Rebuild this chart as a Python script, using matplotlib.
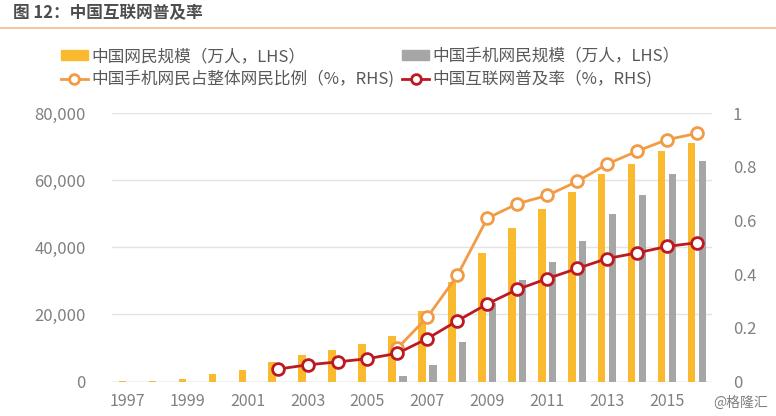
import numpy as np
import matplotlib
matplotlib.use("Agg")
import matplotlib.pyplot as plt
from matplotlib.lines import Line2D
from matplotlib.ticker import FuncFormatter

plt.rcParams["font.family"] = ["Noto Sans CJK SC", "DejaVu Sans"]

# data (万人 / ratio)
years = list(range(1997, 2017))
netizens = [62, 210, 890, 2250, 3370, 5910, 7950, 9400, 11100, 13700,
            21000, 29800, 38400, 45730, 51310, 56400, 61758, 64875, 68826, 71000]
mobile_netizens = [0, 0, 0, 0, 0, 0, 0, 0, 0, 1700,
                   5040, 11760, 23344, 30274, 35558, 41997, 50006, 55678, 61981, 65600]
mobile_share = [None] * 9 + [0.124, 0.24, 0.395, 0.608, 0.662, 0.693,
                             0.745, 0.810, 0.858, 0.901, 0.924]
penetration = [None] * 5 + [0.046, 0.062, 0.073, 0.085, 0.105, 0.16, 0.226,
                            0.289, 0.343, 0.383, 0.421, 0.458, 0.479, 0.503, 0.517]

YELLOW = "#F9BA30"
GREY = "#A6A6A6"
ORANGE = "#F39A45"
RED = "#BC1A22"
TXT = "#595959"
TICK = "#808080"

fig = plt.figure(figsize=(7.76, 4.16), dpi=100)
ax = fig.add_axes([0.1443, 0.0829, 0.7732, 0.6454])
ax2 = ax.twinx()

x = np.arange(len(years))
ax.bar(x - 0.18, netizens, width=0.25, color=YELLOW, zorder=2)
ax.bar(x + 0.18, mobile_netizens, width=0.25, color=GREY, zorder=2)

ms = np.array([np.nan if v is None else v for v in mobile_share])
pen = np.array([np.nan if v is None else v for v in penetration])
ax2.plot(x, ms, color=ORANGE, lw=2, marker="o", ms=8.5, mfc="white",
         mec=ORANGE, mew=2, zorder=3)
ax2.plot(x, pen, color=RED, lw=2, marker="o", ms=8.5, mfc="white",
         mec=RED, mew=2, zorder=4)

ax.set_xlim(-0.53, 19.5)
ax.set_ylim(0, 80000)
ax2.set_ylim(0, 1)
ax.set_yticks(range(0, 80001, 20000))
ax2.set_yticks([0, 0.2, 0.4, 0.6, 0.8, 1])
ax2.set_yticklabels(["0", "0.2", "0.4", "0.6", "0.8", "1"])
ax.yaxis.set_major_formatter(FuncFormatter(lambda v, p: f"{int(v):,}"))
ax.set_xticks(x[::2])
ax.set_xticklabels([str(y) for y in years[::2]])

ax.grid(axis="y", color="#E3E3E3", lw=1, zorder=0)
ax.set_axisbelow(True)
for a in (ax, ax2):
    for s in a.spines.values():
        s.set_visible(False)
    a.tick_params(length=0, colors=TICK)
ax.tick_params(axis="y", labelsize=12, pad=19)
ax.tick_params(axis="x", labelsize=11.5, pad=8)
ax2.tick_params(axis="y", labelsize=12, pad=15)
ax.axhline(0, color="#D9D9D9", lw=1, zorder=1)
ax2.set_zorder(ax.get_zorder() + 1)
ax2.patch.set_visible(False)

# legend
handles = [
    plt.Rectangle((0, 0), 1, 1, color=YELLOW),
    Line2D([], [], color=ORANGE, lw=2, marker="o", ms=7, mfc="white", mec=ORANGE, mew=2),
    plt.Rectangle((0, 0), 1, 1, color=GREY),
    Line2D([], [], color=RED, lw=2, marker="o", ms=7, mfc="white", mec=RED, mew=2),
]
labels = ["中国网民规模（万人，LHS）", "中国手机网民占整体网民比例（%，RHS)",
          "中国手机网民规模（万人，LHS）", "中国互联网普及率（%，RHS)"]
leg = fig.legend(handles, labels, ncol=2, loc="upper left",
                 bbox_to_anchor=(0.068, 0.905), frameon=False, fontsize=12,
                 handlelength=1.6, handleheight=0.55, handletextpad=0.2,
                 columnspacing=0.5, labelspacing=0.35, borderpad=0)
for t in leg.get_texts():
    t.set_color(TXT)

# title and rule
fig.text(13 / 776, 1 - 13 / 416, "图 12：中国互联网普及率", fontsize=12,
         fontweight="bold", color="#4D4D4D", va="center", ha="left")
fig.add_artist(Line2D([0, 1], [1 - 28 / 416, 1 - 28 / 416], color="#F2C8A2",
                      lw=1.5, transform=fig.transFigure))
fig.text(0.99, 1 - 403 / 416, "@格隆汇", fontsize=10, color="#7F7F7F",
         ha="right", va="center")

fig.savefig("out.png", dpi=100)
